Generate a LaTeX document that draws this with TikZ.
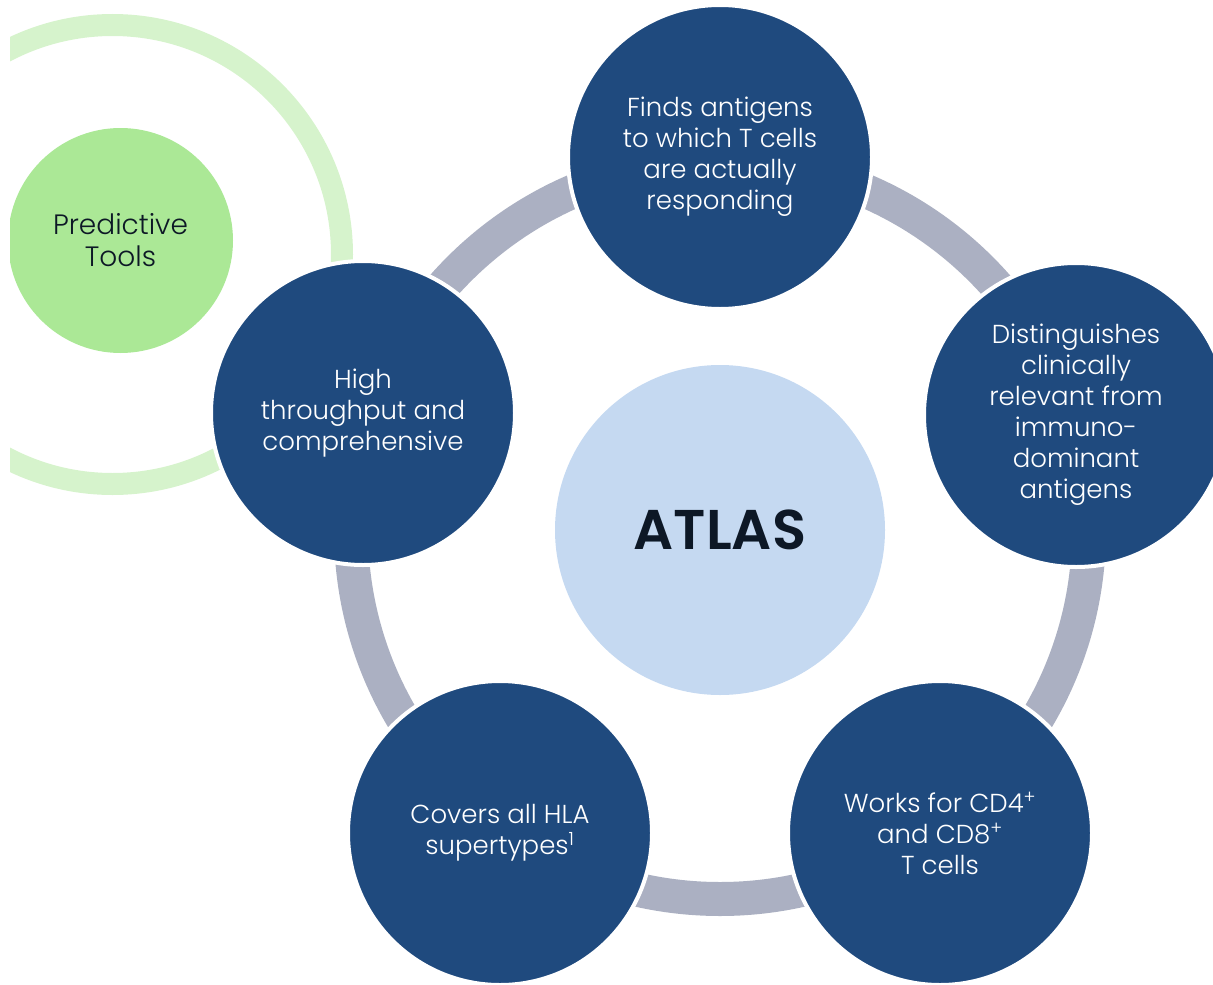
\documentclass[tikz,border=0pt]{standalone}
\usepackage{fontspec}
\newfontfamily\gothic{Poppins}[UprightFont=* Light, BoldFont=* SemiBold]
\definecolor{navy}{HTML}{1F4A7E}
\definecolor{hubblue}{HTML}{C5D9F1}
\definecolor{linkgray}{HTML}{ABB0C2}
\definecolor{leafgreen}{HTML}{ABE896}
\definecolor{palegreen}{HTML}{D6F3CC}
\definecolor{inkdark}{HTML}{0D1826}
\tikzset{
  stage/.style={circle, fill=navy, draw=white, line width=4pt,
    minimum size=304pt, inner sep=0pt, text=white, align=center,
    font=\gothic\fontsize{26}{31}\selectfont},
  hub/.style={circle, fill=hubblue, minimum size=330pt, inner sep=0pt,
    text=inkdark, font=\gothic\bfseries\fontsize{56}{66}\selectfont},
  tool/.style={circle, fill=leafgreen, minimum size=225pt, inner sep=0pt,
    text=inkdark, align=center, font=\gothic\fontsize{28}{32}\selectfont},
}
\begin{document}
\begin{tikzpicture}[x=1pt, y=-1pt]
\useasboundingbox (0,0) rectangle (1213,985);
\clip (10,0) rectangle (1213,985);

% outer ring around the predictive tools
\draw[palegreen, line width=22pt] (112.5,254.5) circle[radius=229.5pt];
% cycle ring linking the five stages
\draw[linkgray, line width=34pt] (720,530) circle[radius=369pt];

\node[tool] (tools) at (120.5,240.5) {Predictive\\Tools};

\node[stage] (find) at (720,157) {Finds antigens\\to which T cells\\are actually\\responding};
\node[stage] (dist) at (1076,415) {Distinguishes\\clinically\\relevant from\\immuno-\\dominant\\antigens};
\node[stage] (works) at (940,833) {Works for CD4\textsuperscript{+}\\and CD8\textsuperscript{+}\\T cells};
\node[stage] (covers) at (500,833) {Covers all HLA\\supertypes\textsuperscript{1}};
\node[stage] (high) at (363,413) {High\\throughput and\\comprehensive};

\node[hub] (atlas) at (720,530) {ATLAS};
\end{tikzpicture}
\end{document}
